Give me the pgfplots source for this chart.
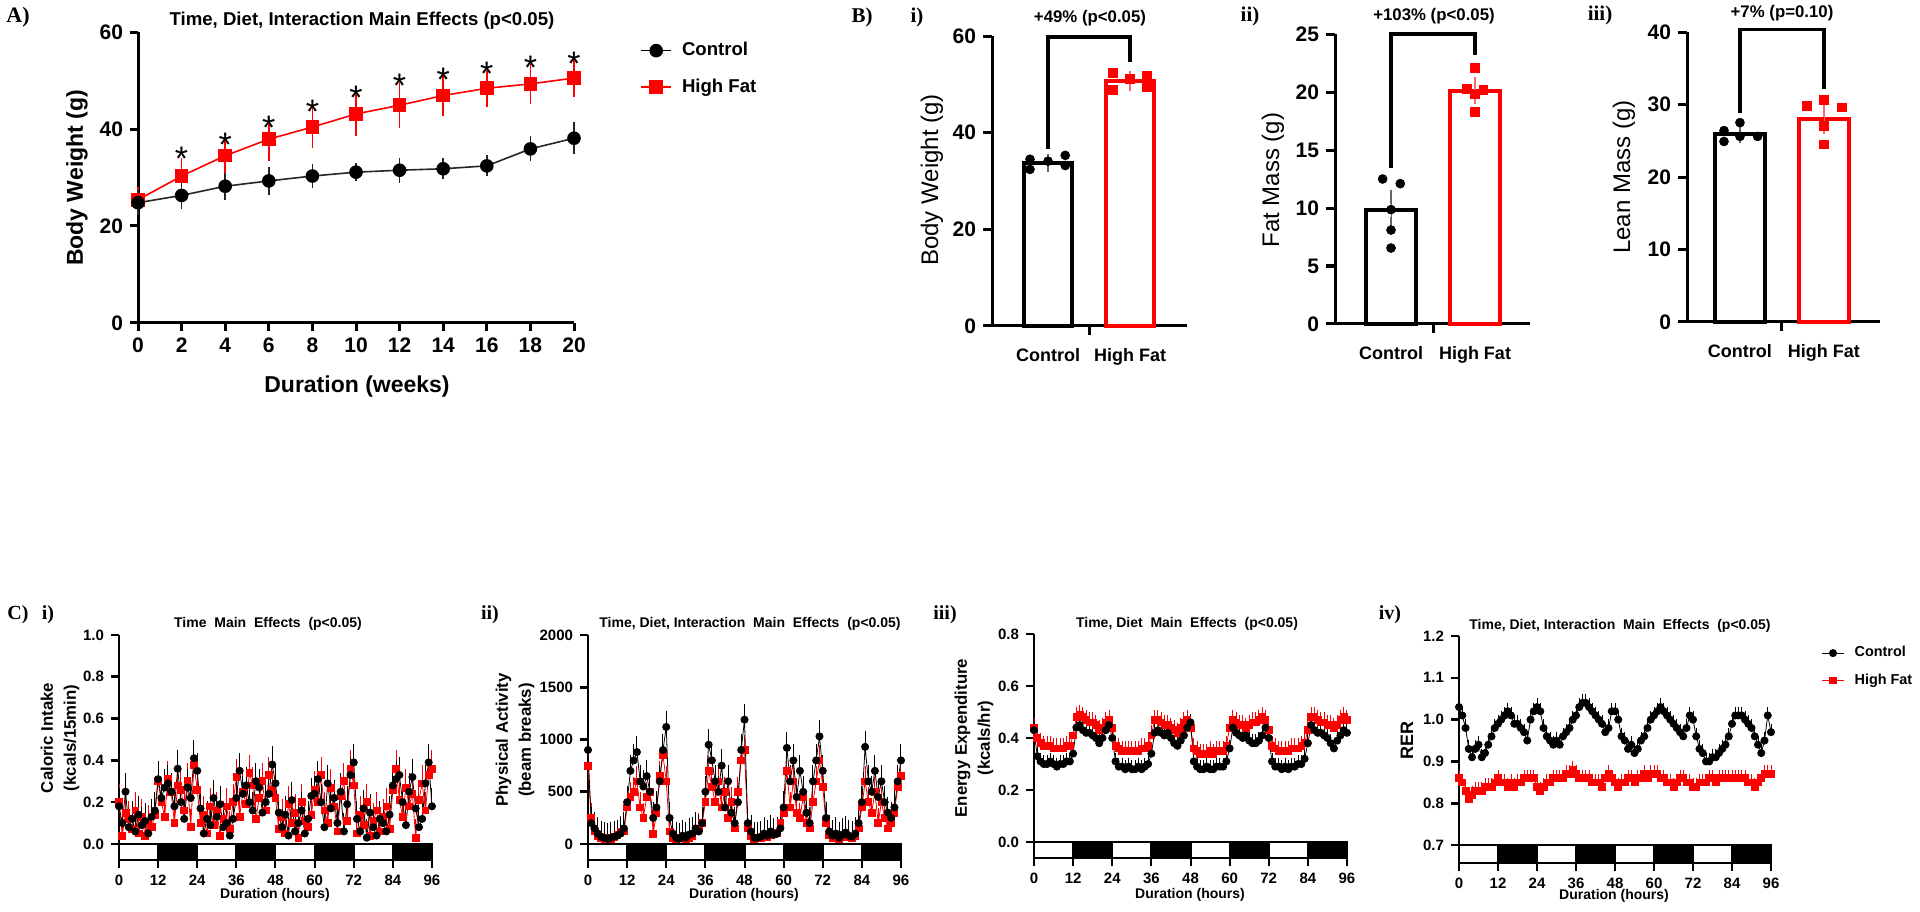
\documentclass[border=0pt]{standalone}
\usepackage{pgfplots}
\pgfplotsset{compat=1.18}
\usepackage{pgfplotstable}
\usepackage{fontspec}
\setmainfont{Liberation Sans}
\newfontfamily\tnr{Liberation Serif}
\newcommand\fs[2]{\fontsize{#1}{#2}\selectfont}
\definecolor{hfred}{RGB}{255,0,0}

\pgfplotstableread{
w c ce h he
0 24.8 1.2 25.4 1.3
2 26.3 1.4 30.3 2.3
4 28.2 1.4 34.5 2.5
6 29.3 1.6 37.9 3.1
8 30.3 1.2 40.4 3.0
10 31.1 0.5 43.1 3.2
12 31.5 1.2 44.9 3.4
14 31.8 0.8 46.9 2.9
16 32.4 0.8 48.4 2.5
18 35.9 1.2 49.3 2.8
20 38.1 1.9 50.5 2.5
}\dataA

\pgfplotstableread{
t c h
0 0.18 0.20
1 0.10 0.04
2 0.25 0.15
3 0.08 0.12
4 0.12 0.07
5 0.06 0.16
6 0.14 0.05
7 0.09 0.13
8 0.11 0.04
9 0.05 0.10
10 0.13 0.08
11 0.16 0.14
12 0.31 0.30
13 0.22 0.20
14 0.27 0.13
15 0.29 0.31
16 0.25 0.25
17 0.18 0.10
18 0.36 0.28
19 0.20 0.26
20 0.12 0.16
21 0.27 0.30
22 0.22 0.08
23 0.41 0.38
24 0.35 0.26
25 0.17 0.10
26 0.05 0.14
27 0.12 0.05
28 0.09 0.18
29 0.22 0.09
30 0.13 0.16
31 0.19 0.04
32 0.08 0.12
33 0.10 0.18
34 0.04 0.07
35 0.12 0.20
36 0.22 0.32
37 0.35 0.13
38 0.24 0.25
39 0.28 0.19
40 0.20 0.34
41 0.16 0.28
42 0.30 0.12
43 0.27 0.22
44 0.15 0.30
45 0.20 0.16
46 0.24 0.33
47 0.38 0.26
48 0.29 0.22
49 0.15 0.07
50 0.08 0.13
51 0.14 0.05
52 0.04 0.19
53 0.21 0.10
54 0.06 0.15
55 0.10 0.03
56 0.16 0.20
57 0.05 0.11
58 0.12 0.08
59 0.23 0.14
60 0.24 0.26
61 0.31 0.20
62 0.20 0.33
63 0.08 0.16
64 0.29 0.10
65 0.17 0.27
66 0.22 0.18
67 0.10 0.06
68 0.25 0.23
69 0.06 0.30
70 0.19 0.11
71 0.33 0.36
72 0.39 0.28
73 0.12 0.05
74 0.06 0.14
75 0.17 0.09
76 0.03 0.20
77 0.15 0.04
78 0.08 0.11
79 0.04 0.16
80 0.12 0.06
81 0.10 0.13
82 0.06 0.18
83 0.14 0.07
84 0.28 0.26
85 0.31 0.36
86 0.33 0.21
87 0.20 0.13
88 0.09 0.27
89 0.25 0.18
90 0.32 0.24
91 0.17 0.03
92 0.08 0.21
93 0.12 0.29
94 0.29 0.16
95 0.39 0.33
96 0.18 0.36
}\dataCi

\pgfplotstableread{
t c h
0 900 750
1 200 250
2 150 120
3 100 80
4 70 60
5 60 50
6 50 60
7 60 50
8 70 70
9 80 90
10 100 120
11 150 120
12 400 350
13 700 450
14 800 500
15 880 600
16 600 350
17 550 250
18 650 450
19 500 500
20 250 100
21 350 300
22 600 650
23 900 850
24 1120 600
25 250 120
26 100 60
27 60 50
28 50 60
29 80 70
30 60 50
31 90 60
32 100 80
33 150 120
34 120 150
35 200 200
36 500 400
37 950 700
38 800 550
39 600 400
40 500 600
41 750 350
42 350 500
43 600 250
44 300 400
45 200 150
46 400 500
47 900 800
48 1190 900
49 200 150
50 120 80
51 60 50
52 60 60
53 70 60
54 100 80
55 80 70
56 120 90
57 90 100
58 100 110
59 150 200
60 350 300
61 920 700
62 600 350
63 800 600
64 450 300
65 700 250
66 500 450
67 300 200
68 200 150
69 600 400
70 800 600
71 1030 800
72 700 550
73 250 200
74 120 90
75 80 60
76 100 80
77 60 50
78 90 70
79 110 90
80 80 70
81 70 60
82 100 80
83 200 150
84 400 350
85 930 600
86 600 400
87 500 300
88 700 500
89 450 200
90 600 400
91 400 250
92 300 150
93 250 200
94 350 300
95 600 550
96 800 650
}\dataCii

\pgfplotstableread{
t c h
0 0.43 0.44
1 0.33 0.40
2 0.31 0.38
3 0.30 0.37
4 0.30 0.37
5 0.31 0.37
6 0.30 0.36
7 0.29 0.36
8 0.30 0.36
9 0.30 0.36
10 0.31 0.37
11 0.31 0.37
12 0.34 0.41
13 0.44 0.48
14 0.45 0.49
15 0.43 0.48
16 0.42 0.47
17 0.42 0.46
18 0.41 0.46
19 0.40 0.45
20 0.38 0.43
21 0.40 0.44
22 0.43 0.46
23 0.45 0.47
24 0.40 0.44
25 0.31 0.37
26 0.29 0.36
27 0.29 0.35
28 0.28 0.35
29 0.29 0.35
30 0.28 0.35
31 0.28 0.35
32 0.29 0.35
33 0.28 0.36
34 0.29 0.36
35 0.30 0.37
36 0.34 0.41
37 0.42 0.47
38 0.43 0.47
39 0.42 0.46
40 0.41 0.45
41 0.42 0.45
42 0.40 0.44
43 0.38 0.43
44 0.37 0.42
45 0.39 0.44
46 0.41 0.46
47 0.44 0.47
48 0.46 0.44
49 0.31 0.36
50 0.29 0.35
51 0.28 0.34
52 0.28 0.34
53 0.29 0.34
54 0.28 0.35
55 0.28 0.34
56 0.29 0.35
57 0.29 0.35
58 0.29 0.35
59 0.31 0.37
60 0.36 0.44
61 0.44 0.47
62 0.42 0.46
63 0.41 0.45
64 0.40 0.45
65 0.41 0.44
66 0.39 0.45
67 0.38 0.46
68 0.38 0.46
69 0.39 0.47
70 0.41 0.48
71 0.44 0.47
72 0.40 0.43
73 0.31 0.37
74 0.29 0.36
75 0.29 0.35
76 0.28 0.35
77 0.29 0.35
78 0.28 0.35
79 0.29 0.36
80 0.29 0.36
81 0.30 0.36
82 0.30 0.37
83 0.32 0.38
84 0.38 0.43
85 0.45 0.48
86 0.43 0.48
87 0.42 0.47
88 0.42 0.46
89 0.41 0.46
90 0.40 0.45
91 0.38 0.45
92 0.36 0.44
93 0.39 0.45
94 0.41 0.47
95 0.43 0.48
96 0.42 0.47
}\dataCiii

\pgfplotstableread{
t c h
0 1.03 0.86
1 1.01 0.85
2 0.98 0.83
3 0.93 0.81
4 0.91 0.82
5 0.93 0.83
6 0.94 0.83
7 0.91 0.83
8 0.92 0.84
9 0.94 0.84
10 0.96 0.84
11 0.98 0.85
12 0.99 0.86
13 1.00 0.85
14 1.01 0.85
15 1.02 0.84
16 1.01 0.85
17 0.99 0.84
18 0.99 0.85
19 0.98 0.85
20 0.97 0.86
21 0.95 0.86
22 1.00 0.86
23 1.02 0.86
24 1.03 0.84
25 1.02 0.83
26 0.98 0.84
27 0.96 0.85
28 0.95 0.85
29 0.94 0.86
30 0.95 0.86
31 0.94 0.86
32 0.96 0.86
33 0.97 0.87
34 0.98 0.87
35 1.00 0.88
36 1.01 0.87
37 1.03 0.86
38 1.04 0.86
39 1.04 0.86
40 1.03 0.86
41 1.02 0.85
42 1.01 0.85
43 1.00 0.85
44 0.99 0.84
45 0.97 0.86
46 0.98 0.87
47 1.02 0.86
48 1.02 0.85
49 1.00 0.84
50 0.96 0.85
51 0.95 0.85
52 0.93 0.86
53 0.94 0.86
54 0.92 0.85
55 0.93 0.86
56 0.95 0.86
57 0.96 0.87
58 0.98 0.86
59 1.00 0.87
60 1.01 0.87
61 1.02 0.87
62 1.03 0.86
63 1.02 0.86
64 1.01 0.85
65 1.00 0.85
66 0.99 0.84
67 0.98 0.85
68 0.97 0.86
69 0.96 0.86
70 0.98 0.85
71 1.01 0.85
72 1.00 0.84
73 0.96 0.84
74 0.93 0.85
75 0.92 0.85
76 0.90 0.85
77 0.90 0.86
78 0.91 0.86
79 0.91 0.85
80 0.92 0.86
81 0.93 0.86
82 0.94 0.86
83 0.96 0.86
84 0.99 0.86
85 1.01 0.86
86 1.01 0.86
87 1.01 0.86
88 1.00 0.86
89 0.99 0.85
90 0.98 0.85
91 0.96 0.84
92 0.94 0.85
93 0.92 0.86
94 0.95 0.87
95 1.01 0.87
96 0.97 0.87
}\dataCiv

\newcommand\ldbars[2]{%
  \draw[line width=1pt,fill=white] (axis cs:0,#1) rectangle (axis cs:12,#2);
  \draw[line width=1pt,fill=black] (axis cs:12,#1) rectangle (axis cs:24,#2);
  \draw[line width=1pt,fill=white] (axis cs:24,#1) rectangle (axis cs:36,#2);
  \draw[line width=1pt,fill=black] (axis cs:36,#1) rectangle (axis cs:48,#2);
  \draw[line width=1pt,fill=white] (axis cs:48,#1) rectangle (axis cs:60,#2);
  \draw[line width=1pt,fill=black] (axis cs:60,#1) rectangle (axis cs:72,#2);
  \draw[line width=1pt,fill=white] (axis cs:72,#1) rectangle (axis cs:84,#2);
  \draw[line width=1pt,fill=black] (axis cs:84,#1) rectangle (axis cs:96,#2);
}

\pgfplotsset{
  base/.style={scale only axis, anchor=south west,
    axis x line*=bottom, axis y line*=left,
    axis line style={line width=1.5pt,-}, tick align=outside,
    tick style={line width=1.5pt,black}, major tick length=4pt,
    /pgf/number format/assume math mode=true,
    /pgf/number format/1000 sep={},
    ticklabel style={font=\bfseries\fs{10.5}{12}},
    clip=false},
  bbar/.style={base, width=97.5pt, height=145pt,
    xtick={0,1}, xticklabels={Control,High Fat}, xtick style={draw=none},
    xticklabel style={font=\bfseries\fs{9}{10}, yshift=-3pt},
    major tick length=4.5pt},
  cpan/.style={base, width=156.5pt, height=112.5pt, xmin=0, xmax=96,
    xtick={0,12,...,96}, axis line style={line width=1.3pt,-},
    tick style={line width=1.3pt,black},
    major tick length=4pt, x tick style={line width=1pt},
    ticklabel style={font=\bfseries\fs{7.5}{9}}},
  cctrl/.style={black, line width=0.4pt, mark=*, mark size=1.8pt,
    error bars/.cd, y dir=plus, y fixed=#1,
    error bar style={line width=0.5pt}, error mark options={mark size=1.8pt, line width=0.5pt}},
  chf/.style={hfred, line width=0.4pt, mark=square*, mark size=1.7pt,
    error bars/.cd, y dir=plus, y fixed=#1,
    error bar style={line width=0.5pt}, error mark options={mark size=1.8pt, line width=0.5pt}},
}

\begin{document}
\begin{tikzpicture}
\useasboundingbox (0,0) rectangle (960pt,455.5pt);

% ---------------- Panel A ----------------
\begin{axis}[base, at={(69pt,294pt)}, width=218pt, height=145.5pt,
  xmin=0, xmax=20, ymin=0, ymax=60,
  xtick={0,2,...,20}, ytick={0,20,40,60},
  legend style={draw=none, fill=none, at={(axis description cs:1,1)}, anchor=north west,
    xshift=30pt, yshift=-1pt, row sep=6pt, font=\bfseries\fs{9.3}{11},
    nodes={inner xsep=5pt}},
  legend cell align=left,
  legend image code/.code={\draw[mark repeat=2,mark phase=2,#1] plot coordinates {(0pt,0pt) (7.5pt,0pt) (15pt,0pt)};}]
\addlegendimage{black, line width=0.8pt, mark=*, mark size=3pt}
\addlegendentry{Control}
\addlegendimage{hfred, line width=0.8pt, mark=square*, mark size=3pt}
\addlegendentry{High Fat}
\addplot[forget plot, hfred, line width=0.8pt, mark=square*, mark size=3pt,
  error bars/.cd, y dir=both, y explicit, error bar style={line width=0.8pt},
  error mark options={mark size=3.3pt, line width=0.8pt}]
  table[x=w, y=h, y error=he] {\dataA};
\addplot[forget plot, black!85, line width=0.8pt, mark=*, mark size=3pt, mark options={black},
  error bars/.cd, y dir=both, y explicit, error bar style={line width=0.8pt},
  error mark options={mark size=3.3pt, line width=0.8pt}]
  table[x=w, y=c, y error=ce] {\dataA};
\begin{scope}[every node/.style={font=\fs{17}{17}, yshift=-4pt}]
\node at (axis cs:2,35.5) {*};
\node at (axis cs:4,38.4) {*};
\node at (axis cs:6,41.9) {*};
\node at (axis cs:8,45.1) {*};
\node at (axis cs:10,48.1) {*};
\node at (axis cs:12,50.6) {*};
\node at (axis cs:14,51.8) {*};
\node at (axis cs:16,53.1) {*};
\node at (axis cs:18,54.2) {*};
\node at (axis cs:20,55.0) {*};
\end{scope}
\end{axis}

% ---------------- Panel B i ----------------
\begin{axis}[bbar, at={(496pt,292.5pt)},
  xmin=-0.683, xmax=1.695, ymin=0, ymax=60, ytick={0,20,40,60}]
\addplot[ybar, bar shift=0pt, bar width=0.585, draw=black, fill=white, line width=2pt] coordinates {(0,33.8)};
\addplot[ybar, bar shift=0pt, bar width=0.585, draw=hfred, fill=white, line width=2pt] coordinates {(1,50.7)};
\addplot[black!60, line width=0.8pt, mark=none, error bars/.cd, y dir=both, y explicit,
  error mark options={mark size=3.3pt, line width=0.8pt}] coordinates {(0,33.8) +- (0,0.5)};
\addplot[hfred!60, line width=0.8pt, mark=none, error bars/.cd, y dir=both, y explicit,
  error mark options={mark size=3.3pt, line width=0.8pt}] coordinates {(1,50.7) +- (0,0.7)};
\addplot[only marks, black, mark=*, mark size=2.2pt] coordinates {(-0.22,34.5) (-0.22,32.4) (0,34.1) (0.21,35.3) (0.21,33.2)};
\addplot[only marks, hfred, mark=square*, mark size=2.2pt] coordinates {(0.79,52.3) (0.79,48.9) (1,51.2) (1.21,51.7) (1.21,49.4)};
\draw[line width=1.6pt] (axis cs:0,36.6) -- (axis cs:0,59.8) -- (axis cs:1,59.8) -- (axis cs:1,54.6);
\draw[line width=1.5pt] (axis cs:0.5,0) -- ([yshift=-4.5pt]axis cs:0.5,0);
\end{axis}

% ---------------- Panel B ii ----------------
\begin{axis}[bbar, at={(667.5pt,293.5pt)},
  xmin=-0.667, xmax=1.655, ymin=0, ymax=25, ytick={0,5,...,25}]
\addplot[ybar, bar shift=0pt, bar width=0.585, draw=black, fill=white, line width=2pt] coordinates {(0,9.82)};
\addplot[ybar, bar shift=0pt, bar width=0.585, draw=hfred, fill=white, line width=2pt] coordinates {(1,20.1)};
\addplot[black!60, line width=0.8pt, mark=none, error bars/.cd, y dir=both, y explicit,
  error mark options={mark size=3.3pt, line width=0.8pt}] coordinates {(0,9.82) +- (0,1.13)};
\addplot[hfred!60, line width=0.8pt, mark=none, error bars/.cd, y dir=both, y explicit,
  error mark options={mark size=3.3pt, line width=0.8pt}] coordinates {(1,20.1) +- (0,0.6)};
\addplot[only marks, black, mark=*, mark size=2.2pt] coordinates {(-0.1,12.5) (0.11,12.1) (0,9.86) (0,8.1) (0,6.55)};
\addplot[only marks, hfred, mark=square*, mark size=2.2pt] coordinates {(1,22.05) (0.9,20.3) (1.1,20.2) (1,19.8) (1,18.3)};
\draw[line width=1.6pt] (axis cs:0,13.45) -- (axis cs:0,25.0) -- (axis cs:1,25.0) -- (axis cs:1,23.2);
\draw[line width=1.5pt] (axis cs:0.5,0) -- ([yshift=-4.5pt]axis cs:0.5,0);
\end{axis}

% ---------------- Panel B iii ----------------
\begin{axis}[bbar, at={(843.5pt,294.5pt)}, width=96.5pt,
  xmin=-0.63, xmax=1.667, ymin=0, ymax=40, ytick={0,10,...,40}]
\addplot[ybar, bar shift=0pt, bar width=0.585, draw=black, fill=white, line width=2pt] coordinates {(0,26.0)};
\addplot[ybar, bar shift=0pt, bar width=0.585, draw=hfred, fill=white, line width=2pt] coordinates {(1,28.0)};
\addplot[black!60, line width=0.8pt, mark=none, error bars/.cd, y dir=both, y explicit,
  error mark options={mark size=3.3pt, line width=0.8pt}] coordinates {(0,26.0) +- (0,0.45)};
\addplot[hfred!60, line width=0.8pt, mark=none, error bars/.cd, y dir=both, y explicit,
  error mark options={mark size=3.3pt, line width=0.8pt}] coordinates {(1,28.0) +- (0,1.15)};
\addplot[only marks, black, mark=*, mark size=2.2pt] coordinates {(-0.19,26.4) (-0.19,24.9) (0,27.5) (0,25.6) (0.21,25.6)};
\addplot[only marks, hfred, mark=square*, mark size=2.2pt] coordinates {(0.8,29.8) (1,30.6) (1.21,29.6) (1,27.0) (1,24.5)};
\draw[line width=1.6pt] (axis cs:0,28.8) -- (axis cs:0,40.3) -- (axis cs:1,40.3) -- (axis cs:1,32.1);
\draw[line width=1.5pt] (axis cs:0.5,0) -- ([yshift=-4.5pt]axis cs:0.5,0);
\end{axis}

% ---------------- Panel C i ----------------
\begin{axis}[cpan, at={(59.5pt,25.5pt)},
  ymin=-0.077, ymax=1.0, ytick={0,0.2,0.4,0.6,0.8,1.0},
  yticklabel style={/pgf/number format/.cd, fixed, fixed zerofill, precision=1}]
\addplot[chf=0.07] table[x=t, y=h] {\dataCi};
\addplot[cctrl=0.07] table[x=t, y=c] {\dataCi};
\ldbars{-0.077}{0}
\end{axis}

% ---------------- Panel C ii ----------------
\begin{axis}[cpan, at={(294pt,25.5pt)},
  ymin=-153, ymax=2000, ytick={0,500,1000,1500,2000}]
\addplot[chf=110] table[x=t, y=h] {\dataCii};
\addplot[cctrl=120] table[x=t, y=c] {\dataCii};
\ldbars{-153}{0}
\end{axis}

% ---------------- Panel C iii ----------------
\begin{axis}[cpan, at={(517pt,26.5pt)}, height=112pt,
  ymin=-0.0615, ymax=0.8, ytick={0,0.2,0.4,0.6,0.8},
  yticklabel style={/pgf/number format/.cd, fixed, fixed zerofill, precision=1}]
\addplot[chf=0.025] table[x=t, y=h] {\dataCiii};
\addplot[cctrl=0.02] table[x=t, y=c] {\dataCiii};
\ldbars{-0.0615}{0}
\end{axis}

% ---------------- Panel C iv ----------------
\begin{axis}[cpan, at={(729.5pt,24pt)}, width=156pt, height=113.5pt,
  ymin=0.657, ymax=1.2, ytick={0.7,0.8,0.9,1.0,1.1,1.2},
  yticklabel style={/pgf/number format/.cd, fixed, fixed zerofill, precision=1},
  legend style={draw=none, fill=none, at={(axis description cs:1,1)}, anchor=north west,
    xshift=22pt, yshift=-1pt, row sep=3pt, font=\bfseries\fs{7.2}{9},
    nodes={inner xsep=5pt}},
  legend cell align=left,
  legend image code/.code={\draw[mark repeat=2,mark phase=2,#1] plot coordinates {(0pt,0pt) (5.5pt,0pt) (11pt,0pt)};}]
\addlegendimage{black, line width=0.6pt, mark=*, mark size=1.7pt}
\addlegendentry{Control}
\addlegendimage{hfred, line width=0.6pt, mark=square*, mark size=1.6pt}
\addlegendentry{High Fat}
\addplot[forget plot, chf=0.012] table[x=t, y=h] {\dataCiv};
\addplot[forget plot, cctrl=0.012] table[x=t, y=c] {\dataCiv};
\ldbars{0.657}{0.7}
\end{axis}

% ---------------- Text labels ----------------
\node[font=\tnr\bfseries\fs{11}{12}] at (9pt,447pt) {A)};
\node[font=\bfseries\fs{9.3}{11}] at (181pt,445pt) {Time, Diet, Interaction Main Effects (p<0.05)};
\node[font=\bfseries\fs{11.5}{13}, rotate=90] at (38.5pt,366.5pt) {Body Weight (g)};
\node[font=\bfseries\fs{11.5}{13}] at (178.5pt,262pt) {Duration (weeks)};

\node[font=\tnr\bfseries\fs{10.5}{12}] at (431pt,447pt) {B)};
\node[font=\tnr\bfseries\fs{10.5}{12}] at (458.5pt,447pt) {i)};
\node[font=\tnr\bfseries\fs{10.5}{12}] at (625pt,447.5pt) {ii)};
\node[font=\tnr\bfseries\fs{10.5}{12}] at (800pt,448pt) {iii)};
\node[font=\bfseries\fs{8.4}{10}] at (545pt,446.5pt) {+49\% (p<0.05)};
\node[font=\bfseries\fs{8.4}{10}] at (717pt,447.5pt) {+103\% (p<0.05)};
\node[font=\bfseries\fs{8.4}{10}] at (891pt,449pt) {+7\% (p=0.10)};
\node[font=\fs{12}{14}, rotate=90] at (466pt,365.5pt) {Body Weight (g)};
\node[font=\fs{12}{14}, rotate=90] at (636.5pt,365.5pt) {Fat Mass (g)};
\node[font=\fs{12}{14}, rotate=90] at (812pt,367pt) {Lean Mass (g)};

\node[font=\tnr\bfseries\fs{10}{12}] at (9pt,148pt) {C)};
\node[font=\tnr\bfseries\fs{10}{12}] at (24pt,148pt) {i)};
\node[font=\tnr\bfseries\fs{10}{12}] at (245pt,148pt) {ii)};
\node[font=\tnr\bfseries\fs{10}{12}] at (472.5pt,148pt) {iii)};
\node[font=\tnr\bfseries\fs{10}{12}] at (695pt,148pt) {iv)};
\node[font=\bfseries\fs{7}{8.5}] at (134pt,143.5pt) {Time\ \ Main\ \ Effects\ \ (p<0.05)};
\node[font=\bfseries\fs{7}{8.5}] at (375pt,143.5pt) {Time,\ Diet,\ Interaction\ \ Main\ \ Effects\ \ (p<0.05)};
\node[font=\bfseries\fs{7}{8.5}] at (593.5pt,143.5pt) {Time,\ Diet\ \ Main\ \ Effects\ \ (p<0.05)};
\node[font=\bfseries\fs{7}{8.5}] at (810pt,142.5pt) {Time,\ Diet,\ Interaction\ \ Main\ \ Effects\ \ (p<0.05)};
\node[font=\bfseries\fs{8.4}{11.5}, rotate=90, align=center] at (30pt,86.5pt) {Caloric Intake\\(kcals/15min)};
\node[font=\bfseries\fs{8.4}{11.5}, rotate=90, align=center] at (257.5pt,85.5pt) {Physical Activity\\(beam breaks)};
\node[font=\bfseries\fs{8.4}{11.5}, rotate=90, align=center] at (487pt,86.5pt) {Energy Expenditure\\(kcals/hr)};
\node[font=\bfseries\fs{9}{11}, rotate=90] at (703.5pt,85.5pt) {RER};
\node[font=\bfseries\fs{7}{8.5}] at (137.5pt,8pt) {Duration (hours)};
\node[font=\bfseries\fs{7}{8.5}] at (372pt,8pt) {Duration (hours)};
\node[font=\bfseries\fs{7}{8.5}] at (595pt,8pt) {Duration (hours)};
\node[font=\bfseries\fs{7}{8.5}] at (807pt,7.5pt) {Duration (hours)};
\end{tikzpicture}
\end{document}
